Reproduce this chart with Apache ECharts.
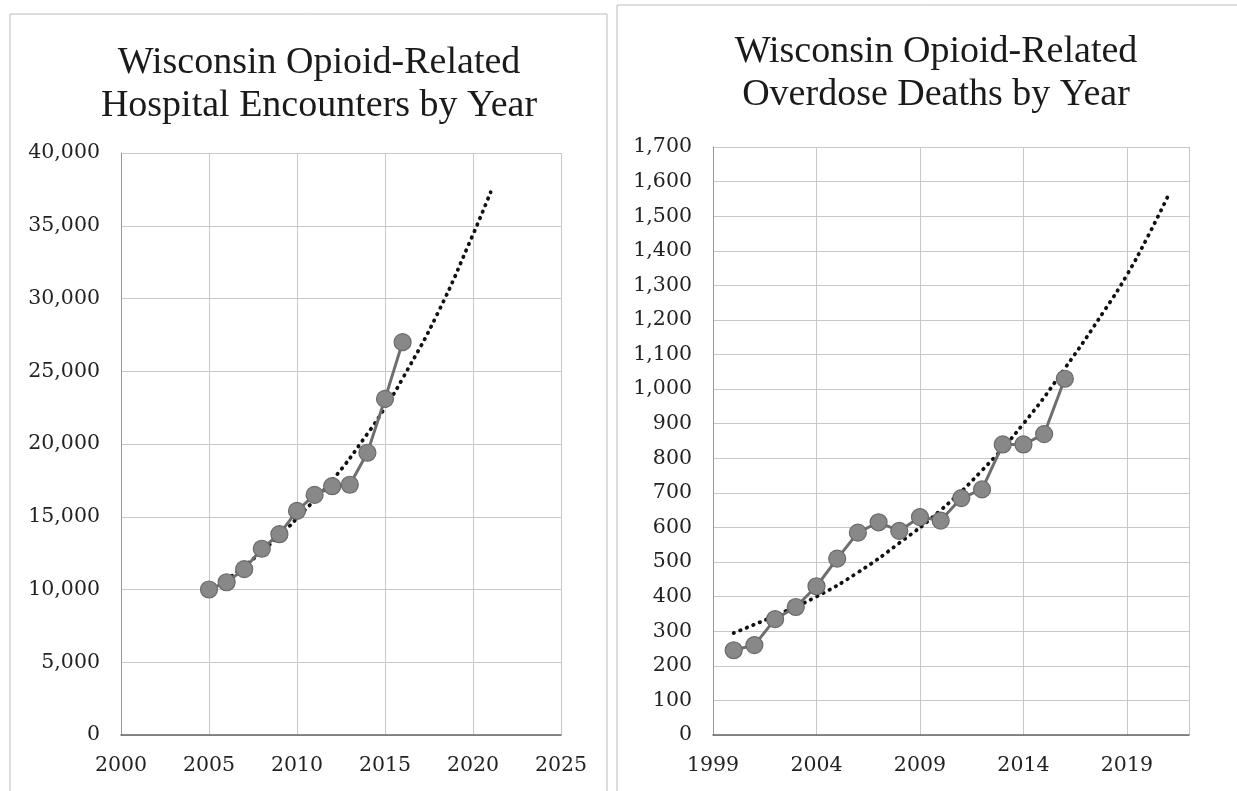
<!DOCTYPE html>
<html>
<head>
<meta charset="utf-8">
<script src="https://cdn.jsdelivr.net/npm/echarts@6/dist/echarts.min.js"></script>
<style>
  html, body { margin: 0; padding: 0; background: #fff; }
  #chart { width: 1237px; height: 791px; }
</style>
</head>
<body>
<div id="chart"></div>
<script>
// hospital encounters (left)
const encYears = [2005, 2006, 2007, 2008, 2009, 2010, 2011, 2012, 2013, 2014, 2015, 2016];
const encValues = [10000, 10500, 11400, 12800, 13800, 15400, 16500, 17100, 17200, 19400, 23100, 27000];
const encTrendYears = [2005, 2007, 2009, 2010, 2012, 2014, 2015, 2016, 2018, 2020, 2021];
const encTrendValues = [9800, 11600, 13700, 14900, 17500, 20700, 22500, 24500, 29000, 34400, 37300];

// overdose deaths (right)
const deathYears = [2000, 2001, 2002, 2003, 2004, 2005, 2006, 2007, 2008, 2009, 2010, 2011, 2012, 2013, 2014, 2015, 2016];
const deathValues = [245, 260, 335, 370, 430, 510, 585, 615, 590, 630, 620, 685, 710, 840, 840, 870, 1030];
const deathTrendYears = [2000, 2002, 2004, 2006, 2008, 2010, 2012, 2014, 2016, 2018, 2019, 2020, 2021];
const deathTrendValues = [295, 345, 400, 470, 555, 650, 765, 900, 1060, 1235, 1330, 1440, 1560];

const titles = [
    'Wisconsin Opioid-Related\nHospital Encounters by Year',
    'Wisconsin Opioid-Related\nOverdose Deaths by Year'
];

const pairs = (xs, ys) => xs.map((x, i) => [x, ys[i]]);
const fmt = (v) => v.toLocaleString('en-US');

const labelFont = {
    fontFamily: 'DejaVu Serif',
    fontSize: 20.5,
    color: '#222'
};

const xAxisOpt = (gridIndex, min, max) => ({
    type: 'value',
    gridIndex: gridIndex,
    min: min,
    max: max,
    interval: 5,
    axisLine: { show: true, lineStyle: { color: '#666', width: 1.5 } },
    axisTick: { show: false },
    axisLabel: Object.assign({
        margin: 20,
        showMaxLabel: max % 5 === 0,
        formatter: (v) => String(v)
    }, labelFont),
    splitLine: { show: true, lineStyle: { color: '#c8c8c8', width: 1 } }
});

const yAxisOpt = (gridIndex, max, interval) => ({
    type: 'value',
    gridIndex: gridIndex,
    min: 0,
    max: max,
    interval: interval,
    axisLine: { show: true, lineStyle: { color: '#999', width: 1 } },
    axisTick: { show: false },
    axisLabel: Object.assign({ margin: 21, formatter: fmt }, labelFont),
    splitLine: { show: true, lineStyle: { color: '#c8c8c8', width: 1 } }
});

const trendSeries = (idx, xs, ys) => ({
    type: 'line',
    xAxisIndex: idx,
    yAxisIndex: idx,
    data: pairs(xs, ys),
    smooth: true,
    symbol: 'none',
    z: 1,
    lineStyle: { color: '#111', width: 3.8, type: [0.5, 6.5], cap: 'round' }
});

const dataSeries = (idx, xs, ys) => ({
    type: 'line',
    xAxisIndex: idx,
    yAxisIndex: idx,
    data: pairs(xs, ys),
    symbol: 'circle',
    symbolSize: 17,
    z: 3,
    lineStyle: { color: '#6e6e6e', width: 3 },
    itemStyle: { color: '#888', borderColor: '#6a6a6a', borderWidth: 1.2 }
});

const titleOpt = (text, cx, top) => ({
    text: text,
    left: cx,
    top: top,
    textAlign: 'center',
    textStyle: {
        fontFamily: 'Liberation Serif',
        fontWeight: 'normal',
        fontSize: 38,
        lineHeight: 43,
        color: '#1a1a1a'
    }
});

const option = {
    animation: false,
    backgroundColor: '#fff',
    title: [
        titleOpt(titles[0], 314, 37),
        titleOpt(titles[1], 931, 26)
    ],
    graphic: [
        {
            type: 'rect',
            shape: { x: 10, y: 14, width: 597, height: 800 },
            style: { fill: 'none', stroke: '#bbb', lineWidth: 1 }
        },
        {
            type: 'rect',
            shape: { x: 617, y: 5, width: 640, height: 800 },
            style: { fill: 'none', stroke: '#bbb', lineWidth: 1 }
        }
    ],
    grid: [
        { left: 121, top: 153, width: 440, height: 582 },
        { left: 713, top: 147, width: 476, height: 588 }
    ],
    xAxis: [
        xAxisOpt(0, 2000, 2025),
        xAxisOpt(1, 1999, 2022)
    ],
    yAxis: [
        yAxisOpt(0, 40000, 5000),
        yAxisOpt(1, 1700, 100)
    ],
    series: [
        trendSeries(0, encTrendYears, encTrendValues),
        dataSeries(0, encYears, encValues),
        trendSeries(1, deathTrendYears, deathTrendValues),
        dataSeries(1, deathYears, deathValues)
    ]
};

const chart = echarts.init(document.getElementById('chart'));
chart.setOption(option);
</script>
</body>
</html>
